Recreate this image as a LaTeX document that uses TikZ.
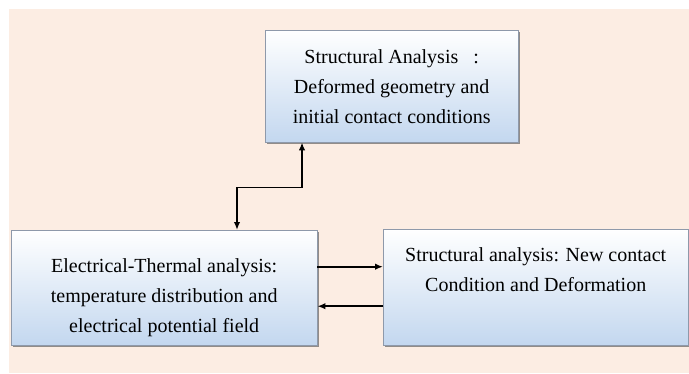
\documentclass[tikz,border=0pt]{standalone}
\usepackage{fontspec}
\setmainfont{Liberation Serif}
\usetikzlibrary{arrows.meta,shadows}
\definecolor{peach}{HTML}{FCEDE3}
\definecolor{boxblue}{HTML}{C3D7EF}
\definecolor{boxline}{HTML}{8E99AA}

\begin{document}
\begin{tikzpicture}[x=1pt, y=-1pt, every node/.style={font=\fontsize{20}{30}\selectfont}, >={Latex[length=8pt,width=6.5pt]},
	stagebox/.style={draw=boxline, top color=white, bottom color=boxblue, align=center, inner sep=0pt, anchor=north west,
		drop shadow={shadow xshift=1.5pt, shadow yshift=-2pt, opacity=0.6, fill=black!70}},
	link/.style={line width=1.6pt}]
	\useasboundingbox (0,0) rectangle (689,373);
	\fill[white] (0,0) rectangle (689,373);
	\fill[peach] (9,9) rectangle (689,373);
	\node[stagebox, minimum width=253pt, minimum height=112pt] (structA) at (265,30)
		{Structural Analysis\ \ \ :\\Deformed geometry and\\initial contact conditions};
	\node[stagebox, minimum width=306pt, minimum height=115pt] (elecT) at (11,230)
		{\rule{0pt}{34pt}Electrical-Thermal analysis:\\temperature distribution and\\electrical potential field};
	\node[stagebox, minimum width=305pt, minimum height=116pt] (newC) at (383,229)
		{Structural analysis: New contact\\Condition and Deformation\\[6pt]\mbox{}};
	\draw[<->, link] ([xshift=37pt]structA.south west) -- ++(0,45) -| ([xshift=226pt]elecT.north west);
	\coordinate (upA) at ([yshift=21pt]elecT.east);
	\coordinate (loB) at ([yshift=-18.5pt]elecT.east);
	\draw[->, link] (upA) -- (upA -| newC.west);
	\draw[->, link] (loB -| newC.west) -- (loB);
\end{tikzpicture}
\end{document}
